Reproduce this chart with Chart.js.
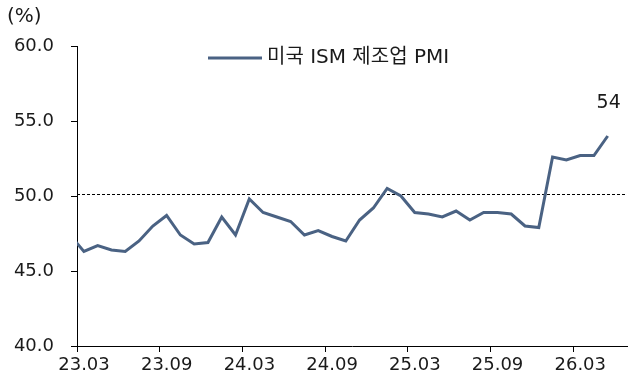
<!DOCTYPE html>
<html>
<head>
<meta charset="utf-8">
<script src="https://cdn.jsdelivr.net/npm/chart.js@4/dist/chart.umd.min.js"></script>
<style>
  html, body { margin: 0; padding: 0; background: #fff; }
  #wrap { width: 639px; height: 386px; }
</style>
</head>
<body>
<div id="wrap"><canvas id="pmiChart" width="639" height="386"></canvas></div>
<script>
// 월별 데이터 (23.02 ~ 26.05)
const months = ['23.02', '23.03', '23.04', '23.05', '23.06', '23.07', '23.08', '23.09', '23.10', '23.11', '23.12',
    '24.01', '24.02', '24.03', '24.04', '24.05', '24.06', '24.07', '24.08', '24.09', '24.10', '24.11', '24.12',
    '25.01', '25.02', '25.03', '25.04', '25.05', '25.06', '25.07', '25.08', '25.09', '25.10', '25.11', '25.12',
    '26.01', '26.02', '26.03', '26.04', '26.05'];
const pmiValues = [47.4, 46.3, 46.7, 46.4, 46.3, 47.0, 48.0, 48.7, 47.4, 46.8, 46.9,
    48.6, 47.4, 49.8, 48.9, 48.6, 48.3, 47.4, 47.7, 47.3, 47.0, 48.4, 49.2,
    50.5, 50.0, 48.9, 48.8, 48.6, 49.0, 48.4, 48.9, 48.9, 48.8, 48.0, 47.9,
    52.6, 52.4, 52.7, 52.7, 54.0];
const tickLabels = ['23.03', '23.09', '24.03', '24.09', '25.03', '25.09', '26.03'];
const yTicks = [40, 45, 50, 55, 60];
const seriesName = '미국 ISM 제조업 PMI';
const baseLine = 50;
const lastLabel = '54';

const FONT = "'DejaVu Sans', 'Noto Sans CJK KR', sans-serif";
const TEXT = '#1a1a1a';
const LINE = '#4a6283';

const points = pmiValues.map((v, i) => ({ x: i, y: v }));

// 기준선, 범례, 단위, 마지막 값 표시
const extras = {
    id: 'extras',
    beforeDatasetsDraw(chart) {
        const { ctx, chartArea } = chart;
        const y = chart.scales.y.getPixelForValue(baseLine);
        ctx.save();
        ctx.strokeStyle = '#000';
        ctx.lineWidth = 1;
        ctx.setLineDash([3, 2]);
        ctx.beginPath();
        ctx.moveTo(chartArea.left, Math.round(y) - 1.5);
        ctx.lineTo(chartArea.right - 2, Math.round(y) - 1.5);
        ctx.stroke();
        ctx.restore();
    },
    afterDraw(chart) {
        const { ctx } = chart;
        ctx.save();
        ctx.fillStyle = TEXT;
        ctx.font = '20px ' + FONT;
        ctx.textBaseline = 'middle';
        ctx.textAlign = 'left';
        ctx.fillText('(%)', 7, 17);

        // 범례
        ctx.strokeStyle = LINE;
        ctx.lineWidth = 3;
        ctx.beginPath();
        ctx.moveTo(208, 58);
        ctx.lineTo(262, 58);
        ctx.stroke();
        ctx.font = '20px ' + FONT;
        ctx.fillText(seriesName, 267, 58);

        // 마지막 값
        const last = points[points.length - 1];
        const px = chart.scales.x.getPixelForValue(last.x);
        const py = chart.scales.y.getPixelForValue(last.y);
        ctx.textAlign = 'center';
        ctx.font = '19px ' + FONT;
        ctx.fillText(lastLabel, px + 1, py - 33);
        ctx.restore();
    }
};

const ctx = document.getElementById('pmiChart').getContext('2d');
new Chart(ctx, {
    type: 'line',
    data: {
        datasets: [{
            label: seriesName,
            data: points,
            borderColor: LINE,
            borderWidth: 3,
            pointRadius: 0,
            tension: 0,
            clip: 0
        }]
    },
    options: {
        responsive: false,
        animation: false,
        layout: { padding: { top: 46, right: 12, left: 0, bottom: 0 } },
        plugins: {
            legend: { display: false },
            tooltip: { enabled: false }
        },
        scales: {
            x: {
                type: 'linear',
                min: 0.5,
                max: 40.4,
                afterBuildTicks: scale => {
                    scale.ticks = tickLabels.map((t, i) => ({ value: 0.5 + i * 6 }));
                },
                afterFit: scale => { scale.height = 40; },
                grid: {
                    drawOnChartArea: false,
                    drawTicks: true,
                    tickLength: 6,
                    color: '#000'
                },
                border: { display: true, color: '#000', width: 1 },
                ticks: {
                    autoSkip: false,
                    maxRotation: 0,
                    labelOffset: 7,
                    padding: 3,
                    color: TEXT,
                    font: { family: FONT, size: 18 },
                    callback: (value, index) => tickLabels[index]
                }
            },
            y: {
                min: 40,
                max: 60,
                afterBuildTicks: scale => {
                    scale.ticks = yTicks.map(v => ({ value: v }));
                },
                afterFit: scale => { scale.width = 77; },
                grid: {
                    drawOnChartArea: false,
                    drawTicks: true,
                    tickLength: 6,
                    color: '#000'
                },
                border: { display: true, color: '#000', width: 1 },
                ticks: {
                    padding: 17,
                    color: TEXT,
                    font: { family: FONT, size: 18 },
                    callback: value => value.toFixed(1)
                }
            }
        }
    },
    plugins: [extras]
});
</script>
</body>
</html>
